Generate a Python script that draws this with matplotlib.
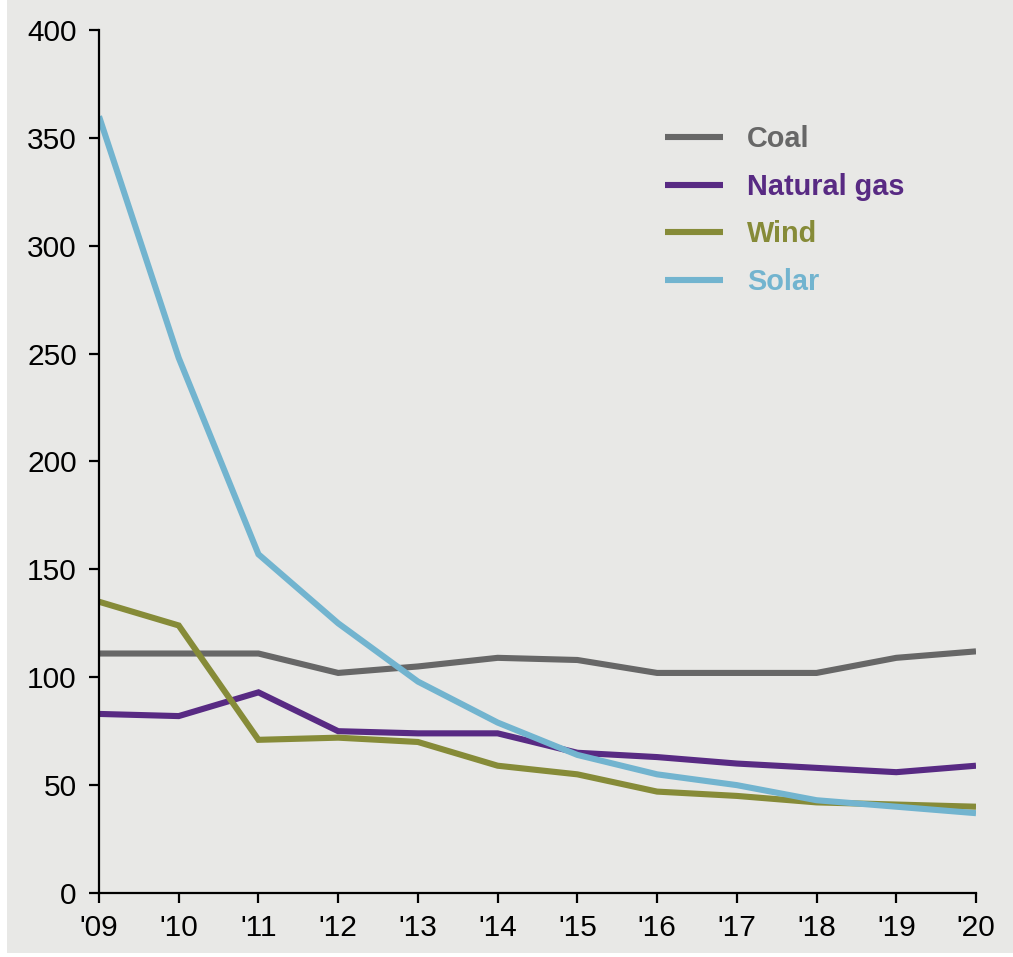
import matplotlib
matplotlib.use("Agg")
import matplotlib.pyplot as plt
from matplotlib.patches import Rectangle

years = ["'09", "'10", "'11", "'12", "'13", "'14", "'15", "'16", "'17", "'18", "'19", "'20"]
coal = [111, 111, 111, 102, 105, 109, 108, 102, 102, 102, 109, 112]
natural_gas = [83, 82, 93, 75, 74, 74, 65, 63, 60, 58, 56, 59]
wind = [135, 124, 71, 72, 70, 59, 55, 47, 45, 42, 41, 40]
solar = [360, 248, 157, 125, 98, 79, 64, 55, 50, 43, 40, 37]

series = [
    ("Coal", coal, "#676767"),
    ("Natural gas", natural_gas, "#582a83"),
    ("Wind", wind, "#868b38"),
    ("Solar", solar, "#72b4cf"),
]

plt.rcParams['font.family'] = ['Liberation Sans', 'DejaVu Sans']

W, H = 1013, 957
fig = plt.figure(figsize=(W / 100, H / 100), dpi=100, facecolor="white")
bg = "#e8e8e6"
fig.patches.append(Rectangle((7 / W, 4 / H), 1 - 7 / W, 1 - 4 / H, transform=fig.transFigure,
                             facecolor=bg, edgecolor="none", zorder=-10))

ax = fig.add_axes([99 / W, 64 / H, 877 / W, 863 / H])
ax.set_zorder(1)
ax.patch.set_visible(False)

x = list(range(len(years)))
for name, vals, col in series:
    ax.plot(x, vals, color=col, lw=4.4, label=name, solid_joinstyle="miter", solid_capstyle="butt")

ax.set_xlim(0, len(years) - 1)
ax.set_ylim(0, 400)
ax.set_yticks(range(0, 401, 50))
ax.set_xticks(x)
ax.set_xticklabels(years)

for s in ["top", "right"]:
    ax.spines[s].set_visible(False)
for s in ["left", "bottom"]:
    ax.spines[s].set_linewidth(1.6)
    ax.spines[s].set_color("black")
ax.spines["left"].set_zorder(5)

ax.tick_params(axis="both", direction="out", length=7, width=1.6, labelsize=21.5, colors="black")
ax.tick_params(axis="x", pad=8)
ax.tick_params(axis="y", pad=9)

leg = ax.legend(loc="upper left", bbox_to_anchor=((665 - 99) / 877, (893 - 125) / 863),
                frameon=False, borderaxespad=0, borderpad=0, handlelength=2.0,
                handletextpad=0.85, labelspacing=0.68,
                prop={"family": "Liberation Sans", "weight": "bold", "size": 20.8})
for txt, (name, vals, col) in zip(leg.get_texts(), series):
    txt.set_color(col)

fig.savefig("out.png", dpi=100, facecolor="white")
